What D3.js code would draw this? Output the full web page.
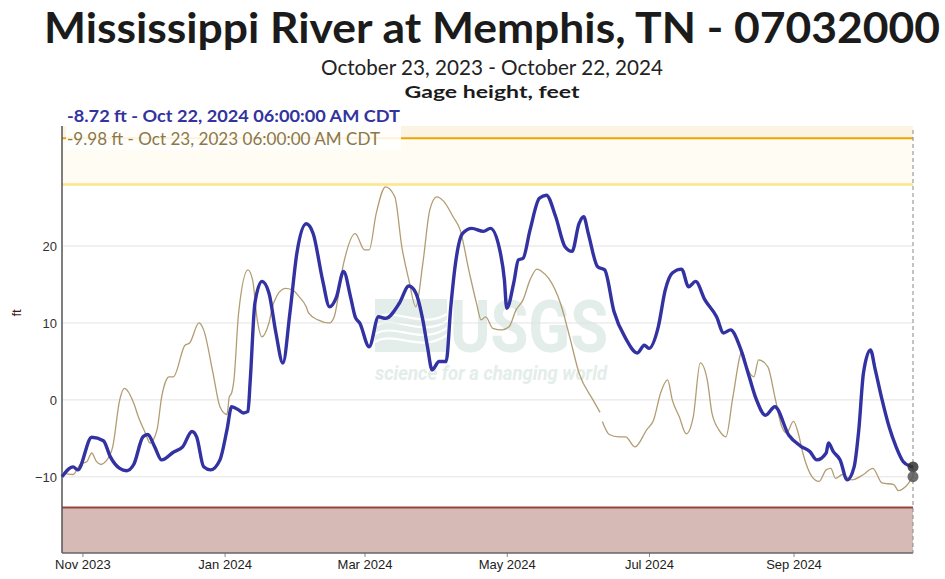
<!DOCTYPE html>
<html><head><meta charset="utf-8">
<script src="https://cdn.jsdelivr.net/npm/d3@7"></script>
<style>body{margin:0;background:#fff}svg{display:block}</style>
</head><body><svg id="c" width="945" height="579"></svg>
<script>
// ---------- DATA ----------
const chartTitle = "Mississippi River at Memphis, TN - 07032000";
const chartSubtitle = "October 23, 2023 - October 22, 2024";
const parameterName = "Gage height, feet";
const currentLabel = "-8.72 ft - Oct 22, 2024 06:00:00 AM CDT";
const priorLabel = "-9.98 ft - Oct 23, 2023 06:00:00 AM CDT";
const periodStart = "2023-10-23T06:00";
const periodEnd = "2024-10-22T06:00";

const currentDates = ["2023-10-23T06:00","2023-10-28","2023-10-30","2023-11-05","2023-11-10","2023-11-13","2023-11-17","2023-11-20","2023-11-23","2023-11-27","2023-11-29","2023-12-02","2023-12-05","2023-12-10","2023-12-14","2023-12-18","2023-12-20","2023-12-23","2023-12-26","2023-12-30","2024-01-02","2024-01-04","2024-01-07","2024-01-09","2024-01-11","2024-01-12","2024-01-14","2024-01-17","2024-01-20","2024-01-23","2024-01-26","2024-01-29","2024-02-01","2024-02-05","2024-02-08","2024-02-12","2024-02-15","2024-02-18","2024-02-21","2024-02-24","2024-02-26","2024-02-28","2024-03-03","2024-03-07","2024-03-10","2024-03-16","2024-03-20","2024-03-23","2024-03-26","2024-03-28","2024-03-30","2024-04-02","2024-04-05","2024-04-07","2024-04-09","2024-04-12","2024-04-16","2024-04-21","2024-04-24","2024-04-28","2024-04-30","2024-05-01","2024-05-04","2024-05-06","2024-05-08","2024-05-11","2024-05-15","2024-05-18","2024-05-22","2024-05-26","2024-05-29","2024-06-01","2024-06-03","2024-06-05","2024-06-09","2024-06-12","2024-06-16","2024-06-21","2024-06-26","2024-06-29","2024-07-01","2024-07-05","2024-07-08","2024-07-11","2024-07-15","2024-07-18","2024-07-21","2024-07-25","2024-07-30","2024-08-02","2024-08-05","2024-08-09","2024-08-13","2024-08-16","2024-08-20","2024-08-24","2024-08-30","2024-09-04","2024-09-08","2024-09-11","2024-09-15","2024-09-16","2024-09-18","2024-09-21","2024-09-24","2024-09-27","2024-09-29","2024-10-01","2024-10-04","2024-10-06","2024-10-09","2024-10-12","2024-10-15","2024-10-18","2024-10-21","2024-10-22T06:00"];
const currentValues = [-10.0,-8.7,-9.1,-4.85,-5.3,-7.4,-8.9,-9.2,-8.4,-4.8,-4.5,-6.1,-7.8,-6.8,-6.1,-4.1,-4.8,-8.7,-9.1,-7.8,-3.9,-0.9,-1.3,-1.7,-1.5,2.6,12.6,15.4,13.9,8.7,4.8,11.3,19.1,22.9,21.6,15.6,12.1,13.4,16.7,13.4,10.8,9.96,6.9,10.8,10.6,12.6,14.8,13.9,10.4,6.9,3.9,5.0,5.0,12.1,17.7,21.6,22.3,21.9,22.3,19.5,15.6,11.9,15.2,18.2,18.4,22.1,26.2,26.6,23.8,19.9,19.3,22.9,23.8,21.6,17.3,16.9,11.5,8.0,6.1,7.1,6.7,9.5,14.3,16.5,17.0,14.7,15.4,13.0,10.8,8.7,9.1,6.9,3.0,0.1,-2.0,-0.9,-4.6,-6.0,-6.7,-7.8,-6.9,-5.6,-6.7,-7.8,-10.4,-8.7,-3.9,3.5,6.5,4.0,0.0,-3.5,-6.1,-8.0,-8.6,-8.72];

// previous year's record, drawn on this year's calendar
const priorDates = ["2023-10-23T06:00","2023-10-28","2023-10-31","2023-11-03","2023-11-05","2023-11-07","2023-11-09","2023-11-11","2023-11-14","2023-11-17","2023-11-19","2023-11-23","2023-11-25","2023-11-28","2023-11-30","2023-12-03","2023-12-05","2023-12-07","2023-12-08","2023-12-10","2023-12-15","2023-12-17","2023-12-21","2023-12-23","2023-12-27","2023-12-30","2024-01-02","2024-01-03","2024-01-04","2024-01-05","2024-01-07","2024-01-11","2024-01-13","2024-01-15","2024-01-17","2024-01-20","2024-01-22","2024-01-27","2024-01-30","2024-02-02","2024-02-05","2024-02-06","2024-02-10","2024-02-15","2024-02-17","2024-02-21","2024-02-26","2024-03-01","2024-03-03","2024-03-06","2024-03-10","2024-03-14","2024-03-17","2024-03-20","2024-03-23","2024-03-26","2024-03-29","2024-04-01","2024-04-04","2024-04-08","2024-04-11","2024-04-15","2024-04-18","2024-04-20","2024-04-22","2024-04-25","2024-04-29","2024-05-02","2024-05-05","2024-05-08","2024-05-11","2024-05-14","2024-05-16","2024-05-19","2024-05-24","2024-05-28","2024-06-01","2024-06-07","2024-06-10","2024-06-10T12:00","2024-06-11","2024-06-14","2024-06-18","2024-06-21","2024-06-25","2024-06-30","2024-07-03","2024-07-06","2024-07-09","2024-07-11","2024-07-14","2024-07-17","2024-07-20","2024-07-23","2024-07-26","2024-07-28","2024-07-31","2024-08-03","2024-08-06","2024-08-10","2024-08-12","2024-08-15","2024-08-17","2024-08-21","2024-08-24","2024-08-27","2024-08-29","2024-09-01","2024-09-03","2024-09-05","2024-09-09","2024-09-12","2024-09-15","2024-09-17","2024-09-19","2024-09-22","2024-09-26","2024-10-01","2024-10-05","2024-10-09","2024-10-14","2024-10-16","2024-10-19","2024-10-22T06:00"];
const priorValues = [-9.5,-9.7,-8.4,-8.0,-6.9,-8.0,-8.4,-8.0,-6.1,0.0,1.5,-0.4,-2.2,-4.3,-5.6,-3.9,0.4,2.6,3.0,3.0,7.1,7.4,10.0,9.1,3.5,-0.9,-1.9,0.4,0.9,2.6,11.3,16.9,15.6,10.4,8.2,10.0,12.6,14.5,14.3,13.4,12.1,11.3,10.4,10.0,10.8,17.7,21.6,19.5,19.5,24.2,27.7,26.4,19.9,15.6,12.1,17.7,24.7,26.4,25.8,23.8,22.1,16.5,12.6,10.4,10.8,9.3,9.1,9.5,11.7,13.0,15.6,17.0,16.7,15.8,12.6,8.2,3.5,0.0,-1.6,null,-2.8,-4.5,-4.8,-4.8,-6.1,-3.9,-2.6,0.9,2.6,0.0,-2.2,-4.4,-2.2,4.8,2.6,-1.7,-3.9,-4.8,0.4,6.3,4.3,3.0,5.2,4.3,0.4,-3.5,-4.3,-2.8,-4.3,-6.9,-10.0,-10.6,-9.1,-8.9,-10.2,-9.7,-10.4,-9.7,-8.9,-10.8,-11.0,-11.8,-11.3,-9.98];

const yTickValues = [-10, 0, 10, 20];
const xTickDates = ["2023-11-01","2024-01-01","2024-03-01","2024-05-01","2024-07-01","2024-09-01"];
const floodStage = 34, actionStage = 28, lowStage = -14;
const yDomain = [-19.9, 35.6];

// ---------- CHART ----------
const parse = s => new Date(s.length > 10 ? s : s + "T00:00");
const svg = d3.select("#c");
const L = 62, R = 913, T = 126, B = 553;
const x = d3.scaleTime().domain([parse(periodStart), parse(periodEnd)]).range([L, R]);
const y = d3.scaleLinear().domain(yDomain).range([B, T]);

const sansT = "Lato, 'Open Sans', sans-serif";
const axisF = "'Liberation Sans', Arial, sans-serif";

// titles
svg.append("text").attr("x", 492).attr("y", 43).attr("text-anchor", "middle")
  .attr("font-family", sansT).attr("font-weight", 700).attr("font-size", 42)
  .attr("fill", "#1b1b1b").attr("textLength", 896).attr("lengthAdjust", "spacingAndGlyphs").text(chartTitle);
svg.append("text").attr("x", 492).attr("y", 75).attr("text-anchor", "middle")
  .attr("font-family", sansT).attr("font-size", 21.5)
  .attr("fill", "#222").attr("textLength", 342).attr("lengthAdjust", "spacingAndGlyphs").text(chartSubtitle);
svg.append("text").attr("x", 492).attr("y", 97.5).attr("text-anchor", "middle")
  .attr("font-family", sansT).attr("font-weight", 700).attr("font-size", 17.5)
  .attr("fill", "#1b1b1b").attr("textLength", 175).attr("lengthAdjust", "spacingAndGlyphs").text(parameterName);

// bands
svg.append("rect").attr("x", L).attr("y", T).attr("width", R - L).attr("height", y(floodStage) - T).attr("fill", "#fcf4e2");
svg.append("rect").attr("x", L).attr("y", y(floodStage)).attr("width", R - L).attr("height", y(actionStage) - y(floodStage)).attr("fill", "#fffcf3");
svg.append("rect").attr("x", L).attr("y", y(lowStage)).attr("width", R - L).attr("height", B - y(lowStage)).attr("fill", "#d5bab6");

// watermark
const wm = svg.append("g").attr("opacity", 1);
const wmc = "#e3ede9";
wm.append("rect").attr("x", 375).attr("y", 299).attr("width", 72).attr("height", 53).attr("fill", wmc);
[0, 1, 2, 3].forEach(i => {
  wm.append("path").attr("d", `M375,${318 + i * 8} C395,${306 + i * 8} 420,${330 + i * 8} 447,${314 + i * 7}`)
    .attr("fill", "none").attr("stroke", "#fff").attr("stroke-width", 2.2);
});
wm.append("text").attr("x", 450).attr("y", 352).attr("font-family", "Roboto, sans-serif").attr("font-weight", 700)
  .attr("font-size", 73).attr("fill", wmc).attr("textLength", 158).attr("lengthAdjust", "spacingAndGlyphs").text("USGS");
wm.append("text").attr("x", 375).attr("y", 380).attr("font-family", "Roboto, sans-serif").attr("font-weight", 700)
  .attr("font-style", "italic").attr("font-size", 20).attr("fill", wmc).attr("textLength", 232).attr("lengthAdjust", "spacingAndGlyphs")
  .text("science for a changing world");

// gridlines
svg.append("g").selectAll("line").data(yTickValues).join("line")
  .attr("x1", L).attr("x2", R).attr("y1", d => y(d)).attr("y2", d => y(d))
  .attr("stroke", "#e3e3e3").attr("stroke-width", 1);

// stage lines
svg.append("line").attr("x1", L).attr("x2", R).attr("y1", y(floodStage)).attr("y2", y(floodStage)).attr("stroke", "#efa300").attr("stroke-width", 2);
svg.append("line").attr("x1", L).attr("x2", R).attr("y1", y(actionStage)).attr("y2", y(actionStage)).attr("stroke", "#fde58c").attr("stroke-width", 2.5);
svg.append("line").attr("x1", L).attr("x2", R).attr("y1", y(lowStage)).attr("y2", y(lowStage)).attr("stroke", "#98443a").attr("stroke-width", 2);

// axes
const yAxis = d3.axisLeft(y).tickValues(yTickValues).tickSize(0).tickPadding(5).tickFormat(d3.format("d"));
const gy = svg.append("g").attr("transform", `translate(${L},0)`).call(yAxis);
gy.select(".domain").remove();
gy.selectAll("text").attr("font-family", axisF).attr("font-size", 13).attr("fill", "#333")
  .text(d => d < 0 ? "\u2212" + Math.abs(d) : d);

const xAxis = d3.axisBottom(x).tickValues(xTickDates.map(parse)).tickSize(4).tickPadding(3).tickFormat(d3.timeFormat("%b %Y"));
const gx = svg.append("g").attr("transform", `translate(0,${B})`).call(xAxis);
gx.select(".domain").remove();
gx.selectAll("line").attr("stroke", "#888");
gx.selectAll("text").attr("font-family", axisF).attr("font-size", 13).attr("fill", "#222");

svg.append("line").attr("x1", L).attr("x2", L).attr("y1", T).attr("y2", B).attr("stroke", "#555").attr("stroke-width", 1.5);
svg.append("line").attr("x1", L).attr("x2", R).attr("y1", B).attr("y2", B).attr("stroke", "#666").attr("stroke-width", 1.5);
svg.append("line").attr("x1", R).attr("x2", R).attr("y1", 130).attr("y2", B).attr("stroke", "#888").attr("stroke-width", 1).attr("stroke-dasharray", "4,3");

svg.append("text").attr("transform", "translate(21,313) rotate(-90)").attr("text-anchor", "middle")
  .attr("font-family", axisF).attr("font-size", 13).attr("fill", "#3a1a1a").text("ft");

// series
const line = d3.line().defined(d => d.v != null).x(d => x(d.t)).y(d => y(d.v)).curve(d3.curveMonotoneX);
const prior = priorDates.map((s, i) => ({ t: parse(s), v: priorValues[i] }));
const current = currentDates.map((s, i) => ({ t: parse(s), v: currentValues[i] }));
svg.append("path").datum(prior).attr("d", line).attr("fill", "none").attr("stroke", "#b29d72").attr("stroke-width", 1.3);
svg.append("path").datum(current).attr("d", line).attr("fill", "none").attr("stroke", "#3232a2").attr("stroke-width", 3.4).attr("stroke-linejoin", "round");

// end markers
svg.append("circle").attr("cx", x(parse(periodEnd))).attr("cy", y(currentValues[currentValues.length - 1])).attr("r", 5.5).attr("fill", "#333").attr("opacity", 0.85);
svg.append("circle").attr("cx", x(parse(periodEnd))).attr("cy", y(priorValues[priorValues.length - 1])).attr("r", 5.5).attr("fill", "#555").attr("opacity", 0.85);

// legend
svg.append("rect").attr("x", 66).attr("y", 126).attr("width", 335).attr("height", 24).attr("fill", "#fff").attr("opacity", 0.85);
svg.append("text").attr("x", 67).attr("y", 122).attr("font-family", sansT).attr("font-weight", 700).attr("font-size", 17.5)
  .attr("fill", "#33339e").attr("textLength", 333).attr("lengthAdjust", "spacingAndGlyphs").text(currentLabel);
svg.append("text").attr("x", 67).attr("y", 145).attr("font-family", sansT).attr("font-size", 17.5)
  .attr("fill", "#8c7748").attr("textLength", 313).attr("lengthAdjust", "spacingAndGlyphs").text(priorLabel);
</script></body></html>
